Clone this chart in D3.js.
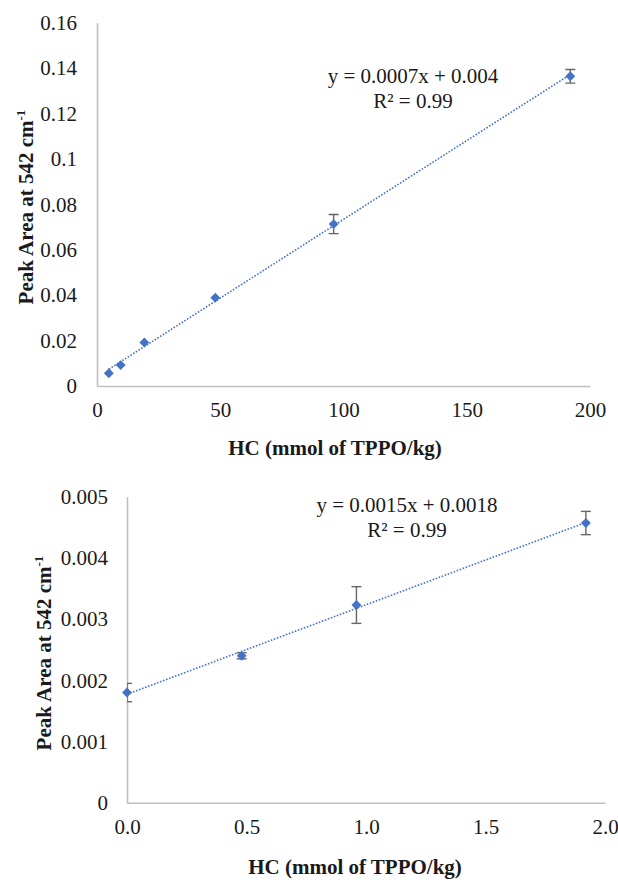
<!DOCTYPE html>
<html>
<head>
<meta charset="utf-8">
<script src="https://cdn.jsdelivr.net/npm/d3@7"></script>
<style>
  html, body { margin: 0; padding: 0; background: #fff; }
</style>
</head>
<body>
<svg id="chart" width="618" height="880" font-family="Liberation Serif" style="font-family:'Liberation Serif'"></svg>
<script>
// ---- Data: top panel ----
const topX = [4.8, 9.6, 19.2, 48, 96, 192];
const topY = [0.0056, 0.0092, 0.0192, 0.0389, 0.0713, 0.1364];
const topErr = [0, 0, 0, 0, 0.0042, 0.003];
const topXTicks = [0, 50, 100, 150, 200];
const topYTicks = [0, 0.02, 0.04, 0.06, 0.08, 0.1, 0.12, 0.14, 0.16];
const topEquation = ["y = 0.0007x + 0.004", "R² = 0.99"];

// ---- Data: bottom panel ----
const botX = [0, 0.48, 0.96, 1.92];
const botY = [0.0018, 0.0024, 0.00323, 0.00457];
const botErr = [0.00015, 0.00005, 0.0003, 0.00019];
const botXTicks = [0, 0.5, 1.0, 1.5, 2.0];
const botYTicks = [0, 0.001, 0.002, 0.003, 0.004, 0.005];
const botEquation = ["y = 0.0015x + 0.0018", "R² = 0.99"];

const xTitle = "HC (mmol of TPPO/kg)";
const yTitleMain = "Peak Area at 542 cm";
const yTitleSup = "-1";

const FONT = "Liberation Serif";
const svg = d3.select("#chart");
const BLUE = "#4472C4";
const TXT = "#1a1a1a";

function linfit(xs, ys) {
  const n = xs.length;
  const mx = d3.mean(xs), my = d3.mean(ys);
  let sxx = 0, sxy = 0;
  for (let i = 0; i < n; i++) { sxx += (xs[i]-mx)**2; sxy += (xs[i]-mx)*(ys[i]-my); }
  const m = sxy / sxx;
  return { m, b: my - m * mx };
}

function styleText(sel, size, weight) {
  sel.attr("font-family", FONT).style("font-family", `'${FONT}'`)
     .attr("font-size", size).attr("fill", TXT);
  if (weight) sel.attr("font-weight", weight);
  return sel;
}

function panel(cfg) {
  const { id, left, right, top, bottom, xDomain, yDomain, xs, ys, errs, xTicks, yTicks,
          xFmt, yFmt, eq, eqX, eqY, xTitleX, xTitleY, yTitleX, yTitleY, xTickY, yTickGap } = cfg;
  const x = d3.scaleLinear().domain(xDomain).range([left, right]);
  const y = d3.scaleLinear().domain(yDomain).range([bottom, top]);
  const g = svg.append("g");

  g.append("clipPath").attr("id", id).append("rect")
    .attr("x", left).attr("y", top - 20).attr("width", right - left + 20).attr("height", bottom - top + 20);

  // axes
  const yAxis = d3.axisLeft(y).tickValues(yTicks).tickSize(0).tickPadding(yTickGap).tickFormat(yFmt);
  const ya = g.append("g").attr("transform", `translate(${left},0)`).call(yAxis);
  ya.attr("font-family", FONT);
  ya.select(".domain").attr("stroke", "#bfbfbf").attr("stroke-width", 1.6);
  styleText(ya.selectAll("text"), 21);

  const xAxis = d3.axisBottom(x).tickValues(xTicks).tickSize(0).tickPadding(xTickY).tickFormat(xFmt);
  const xa = g.append("g").attr("transform", `translate(0,${bottom})`).call(xAxis);
  xa.attr("font-family", FONT);
  xa.select(".domain").attr("stroke", "#bfbfbf").attr("stroke-width", 1.6);
  styleText(xa.selectAll("text"), 21);

  // trendline
  const fit = linfit(xs, ys);
  const x0 = d3.min(xs), x1 = d3.max(xs);
  g.append("line")
    .attr("x1", x(x0)).attr("y1", y(fit.m * x0 + fit.b))
    .attr("x2", x(x1)).attr("y2", y(fit.m * x1 + fit.b))
    .attr("stroke", BLUE).attr("stroke-width", 1.6).attr("stroke-dasharray", "1.6,1.6");

  const pts = xs.map((v, i) => ({ x: v, y: ys[i], e: errs[i] }));
  const plot = g.append("g").attr("clip-path", `url(#${id})`);
  // error bars
  const eb = plot.selectAll(".eb").data(pts.filter(d => d.e > 0)).join("g").attr("class", "eb")
    .attr("stroke", "#666").attr("stroke-width", 1.4).attr("fill", "none");
  eb.append("line").attr("x1", d => x(d.x)).attr("x2", d => x(d.x))
    .attr("y1", d => y(d.y + d.e)).attr("y2", d => y(d.y - d.e));
  eb.append("line").attr("x1", d => x(d.x) - 5).attr("x2", d => x(d.x) + 5)
    .attr("y1", d => y(d.y + d.e)).attr("y2", d => y(d.y + d.e));
  eb.append("line").attr("x1", d => x(d.x) - 5).attr("x2", d => x(d.x) + 5)
    .attr("y1", d => y(d.y - d.e)).attr("y2", d => y(d.y - d.e));

  // markers
  g.selectAll(".pt").data(pts).join("path").attr("class", "pt")
    .attr("d", d3.symbol().type(d3.symbolDiamond2).size(62))
    .attr("transform", d => `translate(${x(d.x)},${y(d.y)})`)
    .attr("fill", BLUE);

  // equation
  styleText(g.append("text").attr("x", eqX).attr("y", eqY).attr("text-anchor", "middle"), 21).text(eq[0]);
  styleText(g.append("text").attr("x", eqX).attr("y", eqY + 25).attr("text-anchor", "middle"), 21).text(eq[1]);

  // axis titles
  styleText(g.append("text").attr("x", xTitleX).attr("y", xTitleY).attr("text-anchor", "middle"), 21, "bold")
    .text(xTitle);
  const yt = styleText(g.append("text").attr("transform", `translate(${yTitleX},${yTitleY}) rotate(-90)`)
    .attr("text-anchor", "middle"), 21, "bold");
  yt.append("tspan").text(yTitleMain);
  yt.append("tspan").attr("font-size", 13).attr("dy", -8).text(yTitleSup);
}

panel({
  id: "clipTop", left: 97, right: 590, top: 22.7, bottom: 386,
  xDomain: [0, 200], yDomain: [0, 0.16],
  xs: topX, ys: topY, errs: topErr, xTicks: topXTicks, yTicks: topYTicks,
  xFmt: d3.format("d"), yFmt: d => d === 0 ? "0" : String(+d.toFixed(2)),
  eq: topEquation, eqX: 413, eqY: 83,
  xTitleX: 335, xTitleY: 455, yTitleX: 33, yTitleY: 207, xTickY: 16, yTickGap: 20
});

panel({
  id: "clipBot", left: 127, right: 605, top: 496.7, bottom: 802.7,
  xDomain: [0, 2.0], yDomain: [0, 0.005],
  xs: botX, ys: botY, errs: botErr, xTicks: botXTicks, yTicks: botYTicks,
  xFmt: d3.format(".1f"), yFmt: d => d === 0 ? "0" : d.toFixed(3),
  eq: botEquation, eqX: 407, eqY: 512,
  xTitleX: 355, xTitleY: 874, yTitleX: 51, yTitleY: 653, xTickY: 16, yTickGap: 19
});
</script>
</body>
</html>
